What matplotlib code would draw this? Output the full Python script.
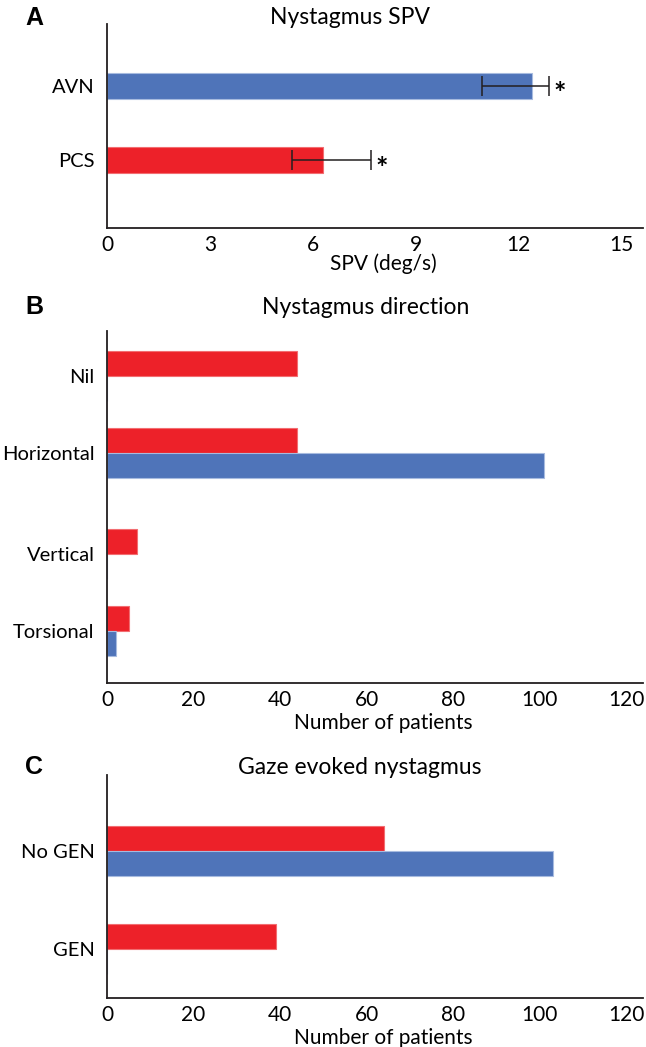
import matplotlib
matplotlib.use("Agg")
import numpy as np
import matplotlib.pyplot as plt

# panel A: slow phase velocity
spv_groups = ["AVN", "PCS"]
spv_mean = [12.4, 6.3]
spv_err_low = [1.45, 0.9]
spv_err_high = [0.5, 1.4]
spv_marks = ["*", "*"]

# panel B: nystagmus direction
dir_cats = ["Nil", "Horizontal", "Vertical", "Torsional"]
dir_pcs = [44, 44, 7, 5]
dir_avn = [0, 101, 0, 2]

# panel C: gaze evoked nystagmus
gen_cats = ["No GEN", "GEN"]
gen_pcs = [64, 39]
gen_avn = [103, 0]

RED = "#ED2129"
RED_EDGE = "#F26D71"
BLUE = "#4F74B9"
BLUE_EDGE = "#A7BBDF"
INK = "#231F20"

plt.rcParams["font.family"] = ["Lato", "DejaVu Sans"]

W, H = 646, 1047
fig = plt.figure(figsize=(W / 100, H / 100), dpi=100)


def px_axes(left, right, top, bottom):
    return fig.add_axes([left / W, 1 - bottom / H, (right - left) / W, (bottom - top) / H])


def style(ax, xmax, ticks):
    for s in ["top", "right"]:
        ax.spines[s].set_visible(False)
    for s in ["left", "bottom"]:
        ax.spines[s].set_linewidth(1.3)
        ax.spines[s].set_color(INK)
    ax.set_xlim(0, xmax)
    ax.set_xticks(ticks)
    ax.tick_params(axis="both", length=0, colors="black")
    ax.tick_params(axis="x", labelsize=15, pad=5)
    ax.tick_params(axis="y", labelsize=14.5, pad=9)


def header(letter, title, title_x, y):
    fig.text(25 / W, 1 - y / H, letter, fontsize=18, fontweight="bold",
             family="Liberation Sans", va="center", ha="left")
    fig.text(title_x / W, 1 - y / H, title, fontsize=16.5, va="center", ha="center")


# ---- A ----
axA = px_axes(107, 643, 24, 228)
ya = np.arange(len(spv_groups))
axA.barh(ya, spv_mean, height=0.35, color=[BLUE, RED],
         edgecolor=[BLUE_EDGE, RED_EDGE], linewidth=0.8)
axA.errorbar(spv_mean, ya, xerr=[spv_err_low, spv_err_high], fmt="none",
             ecolor=INK, elinewidth=1.1, capsize=7, capthick=1.1)
for yi, m, e, s in zip(ya, spv_mean, spv_err_high, spv_marks):
    axA.annotate(s, (m + e, yi), xytext=(3, -6), textcoords="offset points",
                 fontsize=21, fontweight="bold", va="center", ha="left")
axA.set_ylim(1.91, -0.83)
axA.set_yticks(ya)
axA.set_yticklabels(spv_groups)
style(axA, 15.64, [0, 3, 6, 9, 12, 15])
axA.set_xlabel("SPV (deg/s)", fontsize=15, labelpad=0)
axA.xaxis.set_label_coords(0.515, -0.125)
header("A", "Nystagmus SPV", 350, 18)

# ---- B ----
axB = px_axes(107, 643, 331, 683)
yb = np.array([0, 1, 2.31, 3.31])
hb = 0.325
axB.barh(yb - hb / 2, dir_pcs, height=hb, color=RED, edgecolor=RED_EDGE, linewidth=0.8)
axB.barh(yb + hb / 2, dir_avn, height=hb, color=BLUE, edgecolor=BLUE_EDGE, linewidth=0.8)
axB.set_ylim(3.985, -0.584)
axB.set_yticks(yb)
axB.set_yticklabels(dir_cats)
style(axB, 123.9, [0, 20, 40, 60, 80, 100, 120])
axB.set_xlabel("Number of patients", fontsize=15, labelpad=3)
axB.xaxis.set_label_coords(0.515, -0.085)
header("B", "Nystagmus direction", 366, 307)

# ---- C ----
axC = px_axes(107, 643, 775, 998)
yc = np.arange(len(gen_cats))
hc = 0.255
axC.barh(yc - hc / 2, gen_pcs, height=hc, color=RED, edgecolor=RED_EDGE, linewidth=0.8)
axC.barh(yc + hc / 2, gen_avn, height=hc, color=BLUE, edgecolor=BLUE_EDGE, linewidth=0.8)
axC.set_ylim(1.5, -0.776)
axC.set_yticks(yc)
axC.set_yticklabels(gen_cats)
style(axC, 123.9, [0, 20, 40, 60, 80, 100, 120])
axC.set_xlabel("Number of patients", fontsize=15, labelpad=3)
axC.xaxis.set_label_coords(0.515, -0.135)
header("C", "Gaze evoked nystagmus", 360, 767)

fig.savefig("out.png", dpi=100)
